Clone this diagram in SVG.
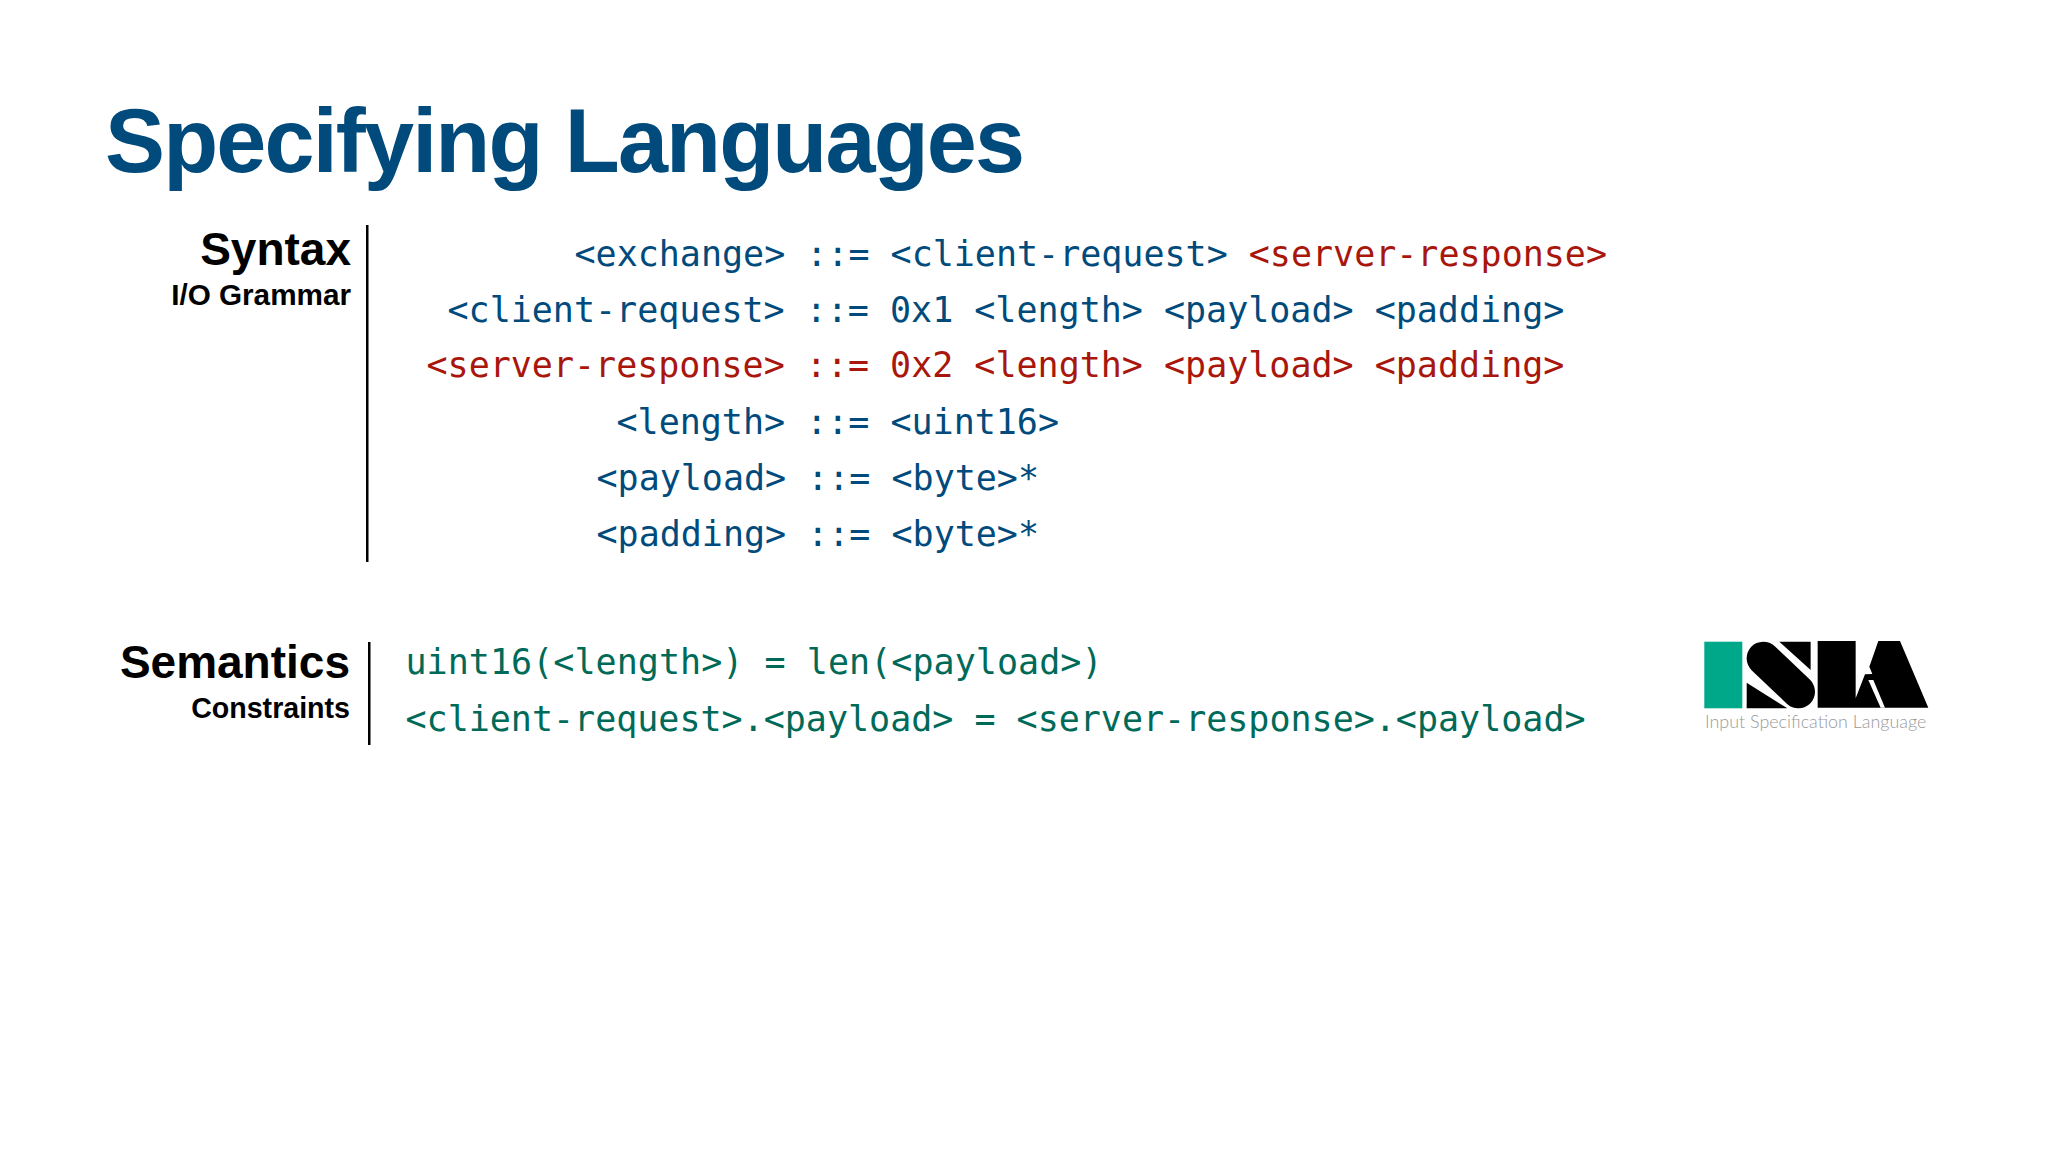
<svg xmlns="http://www.w3.org/2000/svg" width="2048" height="1152" viewBox="0 0 2048 1152">
<style>
.c{font-family:"DejaVu Sans Mono","Liberation Mono",monospace;font-size:35px}
.b{fill:#004b7c}.r{fill:#a8160c}.g{fill:#006a58}
.h{font-family:"Liberation Sans",Arial,sans-serif;font-weight:700;fill:#000;text-anchor:end}
</style>
<rect width="2048" height="1152" fill="#fff"/>
<text x="105" y="172" font-family="Liberation Sans" font-weight="700" font-size="90" letter-spacing="-1.85" fill="#004b7c">Specifying Languages</text>
<g id="syntax"><text class="h" x="351" y="265" font-size="46">Syntax</text><text class="h" x="351" y="305" font-size="29.7">I/O Grammar</text><rect x="366" y="225" width="2.5" height="337"/></g>
<g id="semantics"><text class="h" x="350" y="678" font-size="46">Semantics</text><text class="h" x="350" y="718" font-size="28.6">Constraints</text><rect x="368" y="642" width="2.5" height="103"/></g>
<g id="grammar" class="c">
<text class="b" x="574.5" y="266">&lt;exchange&gt; ::= &lt;client-request&gt; <tspan class="r">&lt;server-response&gt;</tspan></text>
<text class="b" x="447.5" y="322">&lt;client-request&gt; ::= 0x1 &lt;length&gt; &lt;payload&gt; &lt;padding&gt;</text>
<text class="r" x="426.5" y="377">&lt;server-response&gt; ::= 0x2 &lt;length&gt; &lt;payload&gt; &lt;padding&gt;</text>
<text class="b" x="616.5" y="434">&lt;length&gt; ::= &lt;uint16&gt;</text>
<text class="b" x="596.5" y="490">&lt;payload&gt; ::= &lt;byte&gt;*</text>
<text class="b" x="596.5" y="546">&lt;padding&gt; ::= &lt;byte&gt;*</text>
</g>
<g id="constraints" class="c">
<text class="g" x="405.5" y="674" textLength="697">uint16(&lt;length&gt;) = len(&lt;payload&gt;)</text>
<text class="g" x="405.5" y="731">&lt;client-request&gt;.&lt;payload&gt; = &lt;server-response&gt;.&lt;payload&gt;</text>
</g>
<g id="logo">
<rect x="1704.3" y="641.7" width="38" height="66.6" fill="#00a88a"/>
<g transform="translate(1680 620) scale(.3333)">
<line x1="250" y1="115" x2="355" y2="215" stroke="#000" stroke-width="100" stroke-linecap="round"/>
<polygon points="298,65 392,65 392,150"/>
<polygon points="200,188 200,265 322,265"/>
</g>
<g transform="translate(1810 635) scale(.3333)">
<polygon points="23,18 137,18 137,190 165,118 187,117 178,95 205,18 270,18 355,218 23,218"/>
<polygon points="175,135 190,135 225,218 212,218" fill="#fff"/>
</g>
<text x="1705" y="728" font-family="Lato" font-weight="300" font-size="17.9" fill="#999">Input Specification Language</text>
</g>
</svg>
